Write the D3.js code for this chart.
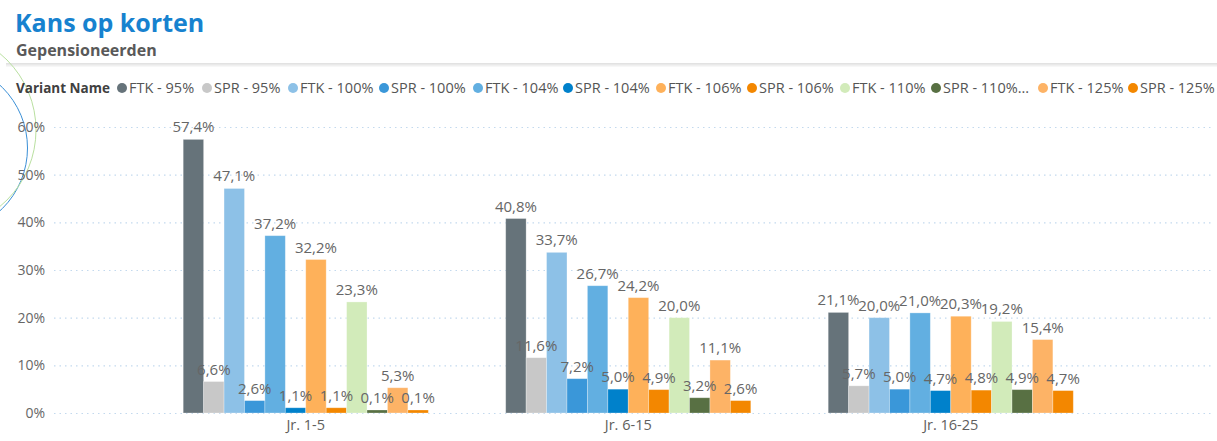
<!DOCTYPE html>
<html><head><meta charset="utf-8">
<script src="https://cdn.jsdelivr.net/npm/d3@7"></script>
<style>
body{margin:0;background:#fff;}
svg{display:block;font-family:"Open Sans","Noto Sans",sans-serif;}
</style></head>
<body><svg id="c" width="1217" height="441"></svg>
<script>
const categories = ["Jr. 1-5", "Jr. 6-15", "Jr. 16-25"];
const seriesNames = ["FTK - 95%","SPR - 95%","FTK - 100%","SPR - 100%","FTK - 104%","SPR - 104%","FTK - 106%","SPR - 106%","FTK - 110%","SPR - 110%","FTK - 125%","SPR - 125%"];
const legendLabels = ["FTK - 95%","SPR - 95%","FTK - 100%","SPR - 100%","FTK - 104%","SPR - 104%","FTK - 106%","SPR - 106%","FTK - 110%","SPR - 110%...","FTK - 125%","SPR - 125%"];
const seriesColors = ["#66737A","#C8C8C8","#8DC1E7","#3A97D9","#62AFE1","#0081CB","#FEB15A","#F38700","#D2EBBA","#587043","#FDB366","#F38700"];
// values per series, ordered by category
const values = {
  "FTK - 95%":  [57.4, 40.8, 21.1],
  "SPR - 95%":  [6.6, 11.6, 5.7],
  "FTK - 100%": [47.1, 33.7, 20.0],
  "SPR - 100%": [2.6, 7.2, 5.0],
  "FTK - 104%": [37.2, 26.7, 21.0],
  "SPR - 104%": [1.1, 5.0, 4.7],
  "FTK - 106%": [32.2, 24.2, 20.3],
  "SPR - 106%": [1.1, 4.9, 4.8],
  "FTK - 110%": [23.3, 20.0, 19.2],
  "SPR - 110%": [0.1, 3.2, 4.9],
  "FTK - 125%": [5.3, 11.1, 15.4],
  "SPR - 125%": [0.1, 2.6, 4.7]
};
const yTicks = [0, 10, 20, 30, 40, 50, 60];

const svg = d3.select("#c");
const fmt = v => v.toFixed(1).replace(".", ",") + "%";

// title
svg.append("text").attr("x", 15).attr("y", 32).attr("fill", "#1782CF")
  .attr("font-size", 25).attr("font-weight", 700).text("Kans op korten");
svg.append("text").attr("x", 16).attr("y", 56).attr("fill", "#595959")
  .attr("font-size", 16).attr("font-weight", 700).text("Gepensioneerden");
// separator
svg.append("line").attr("x1", 6).attr("x2", 1217).attr("y1", 64).attr("y2", 64).attr("stroke", "#d9d9d9").attr("stroke-width", 1.5);
svg.append("line").attr("x1", 6).attr("x2", 1217).attr("y1", 65.5).attr("y2", 65.5).attr("stroke", "#f0f0f0").attr("stroke-width", 2);

// decorative arcs
svg.append("circle").attr("cx", -58).attr("cy", 148).attr("r", 85.5).attr("fill", "none").attr("stroke", "#3A8FD6").attr("stroke-width", 1);
svg.append("circle").attr("cx", -63).attr("cy", 130).attr("r", 99).attr("fill", "none").attr("stroke", "#B9E0A0").attr("stroke-width", 1);

// scales
const x0 = d3.scaleBand().domain(categories).range([144.5, 1112]).paddingInner(0.24).paddingOuter(0.12);
const x1 = d3.scaleBand().domain(seriesNames).range([0, x0.bandwidth()]).padding(0);
const y = d3.scaleLinear().domain([0, 60]).range([413, 127]);

// grid + y labels
const yAxis = d3.axisLeft(y).tickValues(yTicks).tickFormat(d => d + "%").tickSize(-(1212 - 54)).tickPadding(9);
const ga = svg.append("g").attr("transform", "translate(54,0)").call(yAxis);
ga.select(".domain").remove();
ga.selectAll(".tick line").attr("stroke", "#C3D9EE").attr("stroke-width", 1.2).attr("stroke-dasharray", "1.5,4");
ga.selectAll(".tick text").attr("fill", "#666").attr("font-size", 14).attr("font-family", "'Open Sans','Noto Sans',sans-serif");

// x labels
const xAxis = d3.axisBottom(x0).tickSize(0).tickPadding(7);
const gx = svg.append("g").attr("transform", "translate(0,413)").call(xAxis);
gx.select(".domain").remove();
gx.selectAll(".tick text").attr("fill", "#605E5C").attr("font-size", 14.5).attr("font-family", "'Open Sans','Noto Sans',sans-serif");

// bars
const groups = svg.append("g").selectAll("g").data(categories).join("g")
  .attr("transform", c => `translate(${x0(c)},0)`);
groups.each(function(c, ci) {
  const g = d3.select(this);
  const d = seriesNames.map((s, si) => ({s, si, v: values[s][ci]}));
  const h = e => Math.max(y(0) - y(e.v), 3);
  g.selectAll("rect").data(d).join("rect")
    .attr("x", e => x1(e.s)).attr("width", x1.bandwidth())
    .attr("y", e => y(0) - h(e)).attr("height", h)
    .attr("fill", e => seriesColors[e.si])
    .attr("stroke", "#ffffff").attr("stroke-opacity", 0.35).attr("stroke-width", 0.8);
  g.selectAll("text").data(d).join("text")
    .attr("x", e => x1(e.s) + x1.bandwidth() / 2).attr("y", e => y(0) - h(e) - 7)
    .attr("text-anchor", "middle").attr("fill", "#666").attr("font-size", 15)
    .text(e => fmt(e.v));
});

// legend
const lg = svg.append("g").attr("transform", "translate(0,88)");
lg.append("text").attr("x", 16).attr("y", 5).attr("font-size", 13.5).attr("font-weight", 700).attr("fill", "#404040").text("Variant Name");
const starts = [122,207,293,384,478,568,661,752,845,936,1043,1133];
legendLabels.forEach((t, i) => {
  lg.append("circle").attr("cx", starts[i]).attr("cy", 0).attr("r", 5).attr("fill", seriesColors[i]);
  lg.append("text").attr("x", starts[i] + 7).attr("y", 5).attr("font-size", 14.5).attr("fill", "#555").text(t);
});
</script></body></html>
